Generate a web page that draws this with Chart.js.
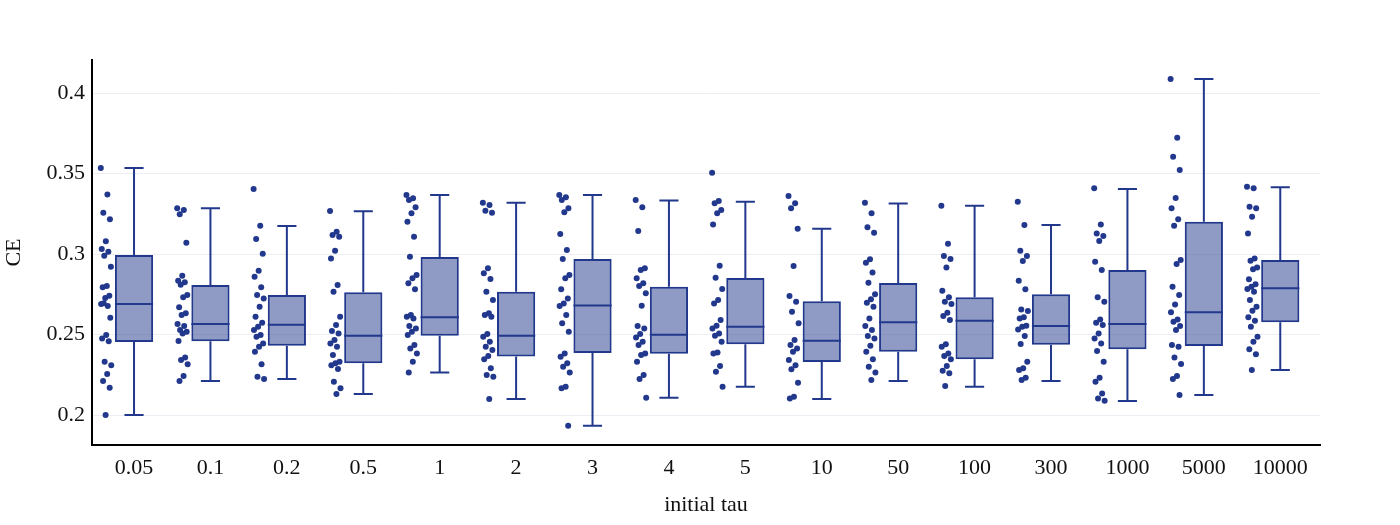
<!DOCTYPE html>
<html>
<head>
<meta charset="utf-8">
<script src="https://cdn.jsdelivr.net/npm/chart.js@4.4.1/dist/chart.umd.min.js"></script>
<style>
  html, body { margin: 0; background: #fff; }
</style>
</head>
<body>
<canvas id="lienzo" width="1400" height="525"></canvas>
<script>
const categorias = ['0.05', '0.1', '0.2', '0.5', '1', '2', '3', '4', '5', '10', '50', '100', '300', '1000', '5000', '10000']
const ticksY = [0.2, 0.25, 0.3, 0.35, 0.4]

// cajas: cuartiles, mediana y bigotes
const q1 = [0.2453, 0.2458, 0.243, 0.2321, 0.2493, 0.2364, 0.2385, 0.2381, 0.2439, 0.2329, 0.2393, 0.2346, 0.2437, 0.2408, 0.2429, 0.2576]
const mediana = [0.269, 0.2565, 0.2561, 0.2493, 0.2607, 0.2493, 0.2681, 0.2499, 0.2549, 0.2461, 0.2576, 0.2586, 0.2553, 0.2565, 0.2638, 0.2787]
const q3 = [0.2994, 0.2807, 0.2745, 0.2762, 0.2981, 0.2766, 0.2969, 0.2797, 0.2851, 0.2706, 0.282, 0.2731, 0.275, 0.2901, 0.3201, 0.2963]
const minimo = [0.2, 0.2211, 0.2224, 0.213, 0.2265, 0.2099, 0.1934, 0.2107, 0.2176, 0.2099, 0.2211, 0.2176, 0.2211, 0.2087, 0.2124, 0.228]
const maximo = [0.3534, 0.3284, 0.3174, 0.3265, 0.3366, 0.3319, 0.3366, 0.3333, 0.3325, 0.3157, 0.3314, 0.33, 0.318, 0.3404, 0.4087, 0.3414]

// puntos de cada categoria
const p_005 = [0.3534, 0.337, 0.3257, 0.3216, 0.3079, 0.3031, 0.3014, 0.299, 0.2921, 0.2801, 0.2793, 0.2741, 0.2727, 0.269, 0.2677, 0.2695, 0.2604, 0.2497, 0.2476, 0.2458, 0.2331, 0.231, 0.2255, 0.2211, 0.217, 0.2]
const p_01 = [0.3284, 0.3273, 0.3247, 0.307, 0.2865, 0.2834, 0.2824, 0.2809, 0.2745, 0.2731, 0.2669, 0.2632, 0.2621, 0.2565, 0.2553, 0.2528, 0.2517, 0.2507, 0.246, 0.2358, 0.2342, 0.2315, 0.2242, 0.2211]
const p_02 = [0.3404, 0.3176, 0.3093, 0.3002, 0.2896, 0.2859, 0.2793, 0.2745, 0.2724, 0.2673, 0.2611, 0.2573, 0.2549, 0.2528, 0.2497, 0.2486, 0.2445, 0.2424, 0.2393, 0.2315, 0.2238, 0.2224]
const p_05 = [0.3267, 0.3139, 0.3118, 0.3107, 0.302, 0.2973, 0.2807, 0.2766, 0.2611, 0.2559, 0.2522, 0.2507, 0.2466, 0.2445, 0.2424, 0.2373, 0.2331, 0.2321, 0.231, 0.2286, 0.2207, 0.2166, 0.213]
const p_1 = [0.3366, 0.3346, 0.3335, 0.329, 0.3253, 0.3201, 0.3107, 0.2983, 0.287, 0.2849, 0.2818, 0.2781, 0.2621, 0.2611, 0.26, 0.2553, 0.2538, 0.2517, 0.2497, 0.2435, 0.2414, 0.2383, 0.2331, 0.2265]
const p_2 = [0.3319, 0.3304, 0.3269, 0.3257, 0.2911, 0.288, 0.2845, 0.2766, 0.2714, 0.2632, 0.2621, 0.2611, 0.2503, 0.2486, 0.2455, 0.2424, 0.2404, 0.2366, 0.2346, 0.229, 0.2248, 0.2238, 0.2099]
const p_3 = [0.3366, 0.3352, 0.3335, 0.3284, 0.3259, 0.3124, 0.3025, 0.2969, 0.287, 0.2849, 0.2781, 0.2724, 0.2693, 0.2677, 0.2621, 0.257, 0.2517, 0.2383, 0.2362, 0.2321, 0.23, 0.2265, 0.2176, 0.2166, 0.1934]
const p_4 = [0.3335, 0.329, 0.3143, 0.2911, 0.2901, 0.2849, 0.2818, 0.2801, 0.2756, 0.2679, 0.2553, 0.2538, 0.2503, 0.2482, 0.2455, 0.2435, 0.2383, 0.2373, 0.2331, 0.2248, 0.2224, 0.2107]
const p_5 = [0.3505, 0.3329, 0.3315, 0.3273, 0.3253, 0.3184, 0.2927, 0.2853, 0.2783, 0.2714, 0.2693, 0.259, 0.2555, 0.2538, 0.2507, 0.2493, 0.2455, 0.2389, 0.2383, 0.2304, 0.2269, 0.2176]
const p_10 = [0.336, 0.3315, 0.3284, 0.3157, 0.2925, 0.2739, 0.2704, 0.2642, 0.257, 0.2466, 0.2435, 0.2414, 0.2393, 0.2342, 0.231, 0.2284, 0.2201, 0.2114, 0.2103]
const p_50 = [0.3319, 0.3253, 0.3166, 0.3132, 0.2967, 0.2946, 0.2886, 0.2822, 0.275, 0.2719, 0.2698, 0.2673, 0.26, 0.2553, 0.2528, 0.2491, 0.2476, 0.243, 0.2393, 0.2346, 0.23, 0.2265, 0.2217]
const p_100 = [0.33, 0.3064, 0.2988, 0.2969, 0.2917, 0.2772, 0.2731, 0.2704, 0.269, 0.2635, 0.2615, 0.259, 0.2439, 0.2424, 0.2383, 0.2366, 0.2346, 0.2304, 0.2275, 0.2259, 0.218]
const p_300 = [0.3325, 0.318, 0.302, 0.2988, 0.2957, 0.2834, 0.2781, 0.2656, 0.2646, 0.2607, 0.26, 0.2555, 0.2549, 0.2532, 0.2491, 0.2441, 0.2331, 0.229, 0.228, 0.2232, 0.2217]
const p_1000 = [0.3408, 0.3184, 0.3128, 0.3112, 0.3081, 0.2952, 0.2901, 0.2731, 0.2704, 0.2594, 0.2573, 0.2559, 0.2507, 0.2476, 0.2445, 0.2398, 0.2331, 0.2232, 0.2207, 0.2134, 0.2103, 0.2089]
const p_5000 = [0.4087, 0.3722, 0.3604, 0.3522, 0.3348, 0.3284, 0.3216, 0.3176, 0.2963, 0.2938, 0.2797, 0.2745, 0.2687, 0.2638, 0.2594, 0.258, 0.2553, 0.2528, 0.2435, 0.2424, 0.2358, 0.2317, 0.2242, 0.2224, 0.2124]
const p_10000 = [0.3418, 0.3408, 0.3294, 0.3284, 0.3232, 0.3128, 0.2973, 0.2958, 0.2917, 0.2905, 0.2843, 0.2812, 0.2797, 0.2783, 0.2766, 0.2714, 0.2673, 0.2648, 0.2607, 0.2586, 0.2549, 0.2486, 0.2455, 0.2408, 0.2377, 0.228]

const puntos = [p_005, p_01, p_02, p_05, p_1, p_2, p_3, p_4, p_5, p_10, p_50, p_100, p_300, p_1000, p_5000, p_10000]

const azul = 'rgb(34,56,140)'
const relleno = 'rgba(34,56,140,0.5)'
const fuente = "'Liberation Serif', 'Times New Roman', serif"

// los puntos van a la izquierda de cada caja, con un pequeño desplazamiento fijo
let dispersos = []
puntos.forEach((lista, i) => {
    lista.forEach((v, j) => {
        const corrimiento = (((j * 0.618) % 1) - 0.5) * 0.14
        dispersos.push({ x: i - 0.365 + corrimiento, y: v })
    })
})

const bigotes = {
    id: 'bigotes',
    afterDatasetsDraw(chart) {
        const ctx = chart.ctx
        const y = chart.scales.y
        const cajas = chart.getDatasetMeta(0).data
        ctx.save()
        ctx.strokeStyle = azul
        ctx.lineWidth = 2
        cajas.forEach((caja, i) => {
            const mitad = caja.width / 2
            const tapa = caja.width / 4
            const yMed = y.getPixelForValue(mediana[i])
            const yQ1 = y.getPixelForValue(q1[i])
            const yQ3 = y.getPixelForValue(q3[i])
            const yMin = y.getPixelForValue(minimo[i])
            const yMax = y.getPixelForValue(maximo[i])
            ctx.beginPath()
            ctx.moveTo(caja.x - mitad, yMed)
            ctx.lineTo(caja.x + mitad, yMed)
            ctx.moveTo(caja.x, yQ3)
            ctx.lineTo(caja.x, yMax)
            ctx.moveTo(caja.x - tapa, yMax)
            ctx.lineTo(caja.x + tapa, yMax)
            ctx.moveTo(caja.x, yQ1)
            ctx.lineTo(caja.x, yMin)
            ctx.moveTo(caja.x - tapa, yMin)
            ctx.lineTo(caja.x + tapa, yMin)
            ctx.stroke()
        })
        ctx.restore()
    }
}

new Chart(document.getElementById('lienzo'), {
    type: 'bar',
    data: {
        datasets: [{
            type: 'bar',
            data: categorias.map((c, i) => ({ x: i, y: [q1[i], q3[i]] })),
            backgroundColor: relleno,
            borderColor: azul,
            borderWidth: 2,
            borderSkipped: false,
            barPercentage: 0.5,
            categoryPercentage: 1,
            order: 2
        }, {
            type: 'scatter',
            data: dispersos,
            backgroundColor: azul,
            borderWidth: 0,
            pointRadius: 3,
            order: 1
        }]
    },
    options: {
        responsive: false,
        animation: false,
        layout: { padding: { top: 60, right: 80, left: 0, bottom: 0 } },
        plugins: {
            legend: { display: false },
            tooltip: { enabled: false }
        },
        scales: {
            x: {
                type: 'linear',
                offset: false,
                min: -0.55,
                max: 15.52,
                afterBuildTicks: s => { s.ticks = categorias.map((c, i) => ({ value: i })) },
                afterFit: s => { s.height = 80 },
                grid: { display: false, drawTicks: false, offset: false },
                border: { display: true, color: '#000', width: 2 },
                ticks: {
                    autoSkip: false,
                    maxRotation: 0,
                    padding: 10,
                    color: '#111',
                    font: { family: fuente, size: 22 },
                    callback: v => categorias[v]
                },
                title: {
                    display: true,
                    text: 'initial tau',
                    color: '#111',
                    font: { family: fuente, size: 22 },
                    padding: { top: 0, bottom: 7 }
                }
            },
            y: {
                min: 0.1814,
                max: 0.4205,
                afterBuildTicks: s => { s.ticks = ticksY.map(v => ({ value: v })) },
                afterFit: s => { s.width = 92 },
                grid: { color: '#eceef3', lineWidth: 1, drawTicks: false },
                border: { display: true, color: '#000', width: 2 },
                ticks: {
                    padding: 7,
                    color: '#111',
                    font: { family: fuente, size: 22 },
                    callback: v => String(v)
                },
                title: {
                    display: true,
                    text: 'CE',
                    color: '#111',
                    font: { family: fuente, size: 22 },
                    padding: { top: 1, bottom: 0 }
                }
            }
        }
    },
    plugins: [bigotes]
})
</script>
</body>
</html>
